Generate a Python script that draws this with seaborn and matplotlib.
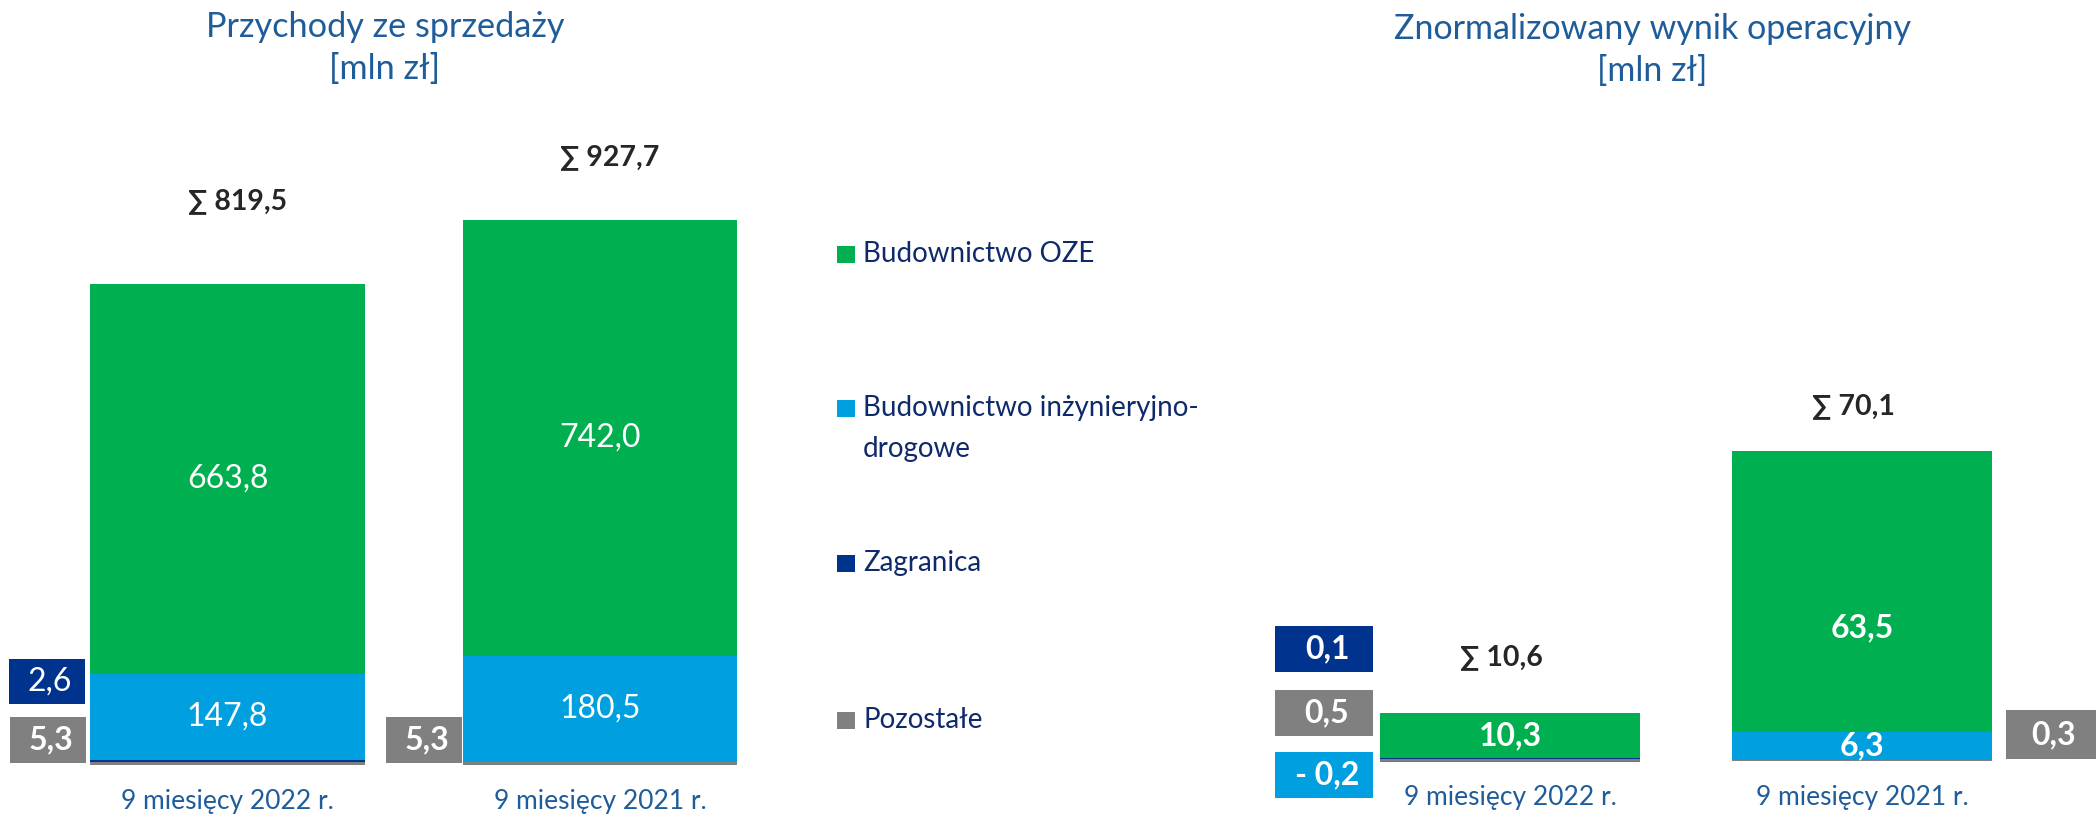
import matplotlib
matplotlib.use("Agg")
import matplotlib.pyplot as plt
from matplotlib.patches import Rectangle
import seaborn as sns
import numpy as np

# ---------------- data ----------------
categories = ["9 miesięcy 2022 r.", "9 miesięcy 2021 r."]
segments = ["Budownictwo OZE", "Budownictwo inżynieryjno-\ndrogowe", "Zagranica", "Pozostałe"]

rev_oze = [663.8, 742.0]
rev_inz = [147.8, 180.5]
rev_zagr = [2.6, 0.0]
rev_poz = [5.3, 5.3]
rev_total = [819.5, 927.7]

op_oze = [10.3, 63.5]
op_inz = [-0.2, 6.3]
op_zagr = [0.1, 0.0]
op_poz = [0.5, 0.3]
op_total = [10.6, 70.1]

title_left = "Przychody ze sprzedaży\n[mln zł]"
title_right = "Znormalizowany wynik operacyjny\n[mln zł]"

# ---------------- style ----------------
C_OZE = "#00B050"
C_INZ = "#009FDF"
C_ZAGR = "#00338E"
C_POZ = "#808080"
C_TITLE = "#1F5C9A"
C_LEG = "#0F2A6B"
C_SUM = "#262626"

sns.set_theme(style="white")
plt.rcParams["font.family"] = ["Lato", "DejaVu Sans"]

W, H = 2098, 815
fig = plt.figure(figsize=(W / 100, H / 100), dpi=100)


def fx(px):
    return px / W


def fy(py):
    return 1 - py / H


def fmt(v):
    s = f"{abs(v):.1f}".replace(".", ",")
    return ("- " + s) if v < 0 else s


def stacked(ax, layers, colors, width):
    """layers bottom->top; draw cumulative positive stacks top-down, negatives separately."""
    pos = [np.clip(np.array(l, dtype=float), 0, None) for l in layers]
    cum = np.cumsum(np.vstack(pos), axis=0)
    for i in range(len(layers) - 1, -1, -1):
        sns.barplot(x=categories, y=list(cum[i]), order=categories, color=colors[i],
                    saturation=1, width=width, linewidth=0, ax=ax, errorbar=None)
    for i, l in enumerate(layers):
        neg = np.clip(np.array(l, dtype=float), None, 0)
        if np.any(neg < 0):
            sns.barplot(x=categories, y=list(neg), order=categories, color=colors[i],
                        saturation=1, width=width, linewidth=0, ax=ax, errorbar=None)
    return cum


SUM_FONT = dict(fontsize=20.5, fontweight="bold", color=C_SUM)

# ---------------- left axes: revenue ----------------
unitL = 372.5
x0L = 227.5
scaleL = 0.5875
baseL = 765
topL = 100
axL = fig.add_axes([fx(x0L - 0.6 * unitL), fy(baseL), fx(2.2 * unitL), (baseL - topL) / H])
layersL = [rev_poz, rev_zagr, rev_inz, rev_oze]
cumL = stacked(axL, layersL, [C_POZ, C_ZAGR, C_INZ, C_OZE], 0.738)
axL.set_xlim(-0.6, 1.6)
axL.set_ylim(0, (baseL - topL) / scaleL)

for j in range(2):
    b = cumL[1][j]
    axL.text(j, b + rev_inz[j] / 2, fmt(rev_inz[j]), ha="center", va="center",
             color="white", fontsize=23)
    b2 = cumL[2][j]
    axL.text(j, b2 + rev_oze[j] / 2, fmt(rev_oze[j]), ha="center", va="center",
             color="white", fontsize=23)
    axL.annotate("∑ " + fmt(rev_total[j]), xy=(j, rev_total[j]), xytext=(7, [59, 45][j]),
                 textcoords="offset points", ha="center", va="center", **SUM_FONT)

# ---------------- right axes: operating result ----------------
unitR = 352
x0R = 1510
scaleR = 310 / 70.1
baseR = 761
topR = 300
botR = 781
axR = fig.add_axes([fx(x0R - 0.7 * unitR), fy(botR), fx(2.35 * unitR), (botR - topR) / H])
layersR = [op_poz, op_zagr, op_inz, op_oze]
cumR = stacked(axR, layersR, [C_POZ, C_ZAGR, C_INZ, C_OZE], 0.738)
axR.set_xlim(-0.7, 1.65)
axR.set_ylim(-(botR - baseR) / scaleR, (baseR - topR) / scaleR)

label_frac = [0.5, 0.37]
for j in range(2):
    b2 = cumR[2][j]
    axR.text(j, b2 + op_oze[j] * label_frac[j], fmt(op_oze[j]), ha="center", va="center",
             color="white", fontsize=23, fontweight="bold")
    axR.annotate("∑ " + fmt(op_total[j]), xy=(j, op_total[j]), xytext=([-6, -6][j], [41, 32][j]),
                 textcoords="offset points", ha="center", va="center", **SUM_FONT)
axR.text(1, cumR[1][1] + op_inz[1] / 2, fmt(op_inz[1]), ha="center", va="center",
         color="white", fontsize=23, fontweight="bold")

for ax, pad in [(axL, 17), (axR, 3)]:
    ax.set_xticks([0, 1])
    ax.set_xticklabels(categories)
    ax.tick_params(axis="x", length=0, pad=pad, labelsize=19, labelcolor=C_TITLE)
    ax.set_yticks([])
    ax.set_xlabel("")
    ax.set_ylabel("")
    for s in ax.spines.values():
        s.set_visible(False)
    ax.set_facecolor("none")
    for p in ax.patches:
        p.set_clip_on(False)

# ---------------- overlay: titles, legend, side boxes ----------------
ov = fig.add_axes([0, 0, 1, 1], zorder=5)
ov.set_xlim(0, W)
ov.set_ylim(H, 0)
ov.axis("off")
ov.patch.set_alpha(0)

ov.text(385, 48, title_left, ha="center", va="center", fontsize=24.7, color=C_TITLE,
        linespacing=1.38)
ov.text(1652, 50, title_right, ha="center", va="center", fontsize=24.5, color=C_TITLE,
        linespacing=1.38)

leg_colors = [C_OZE, C_INZ, C_ZAGR, C_POZ]
leg_y = [254, 408, 563, 720]
for lab, col, y in zip(segments, leg_colors, leg_y):
    ov.add_patch(Rectangle((837, y - 8.5), 18, 17, color=col, lw=0))
    ov.text(863, y - 13, lab, ha="left", va="top", fontsize=20, color=C_LEG,
            linespacing=1.7)

side_boxes = [
    ((9, 659, 85, 704), C_ZAGR, rev_zagr[0], "normal"),
    ((10, 717, 86, 763), C_POZ, rev_poz[0], "bold"),
    ((386, 717, 462, 763), C_POZ, rev_poz[1], "bold"),
    ((1275, 626, 1373, 672), C_ZAGR, op_zagr[0], "bold"),
    ((1275, 690, 1373, 736), C_POZ, op_poz[0], "bold"),
    ((1275, 752, 1373, 798), C_INZ, op_inz[0], "bold"),
    ((2006, 710, 2096, 759), C_POZ, op_poz[1], "bold"),
]
for (x1, y1, x2, y2), col, val, wt in side_boxes:
    ov.add_patch(Rectangle((x1, y1), x2 - x1, y2 - y1, color=col, lw=0))
    ov.text((x1 + x2) / 2 + 3, (y1 + y2) / 2, fmt(val), ha="center", va="center",
            color="white", fontsize=23, fontweight=wt)

fig.savefig("out.png", dpi=100, facecolor="white")
